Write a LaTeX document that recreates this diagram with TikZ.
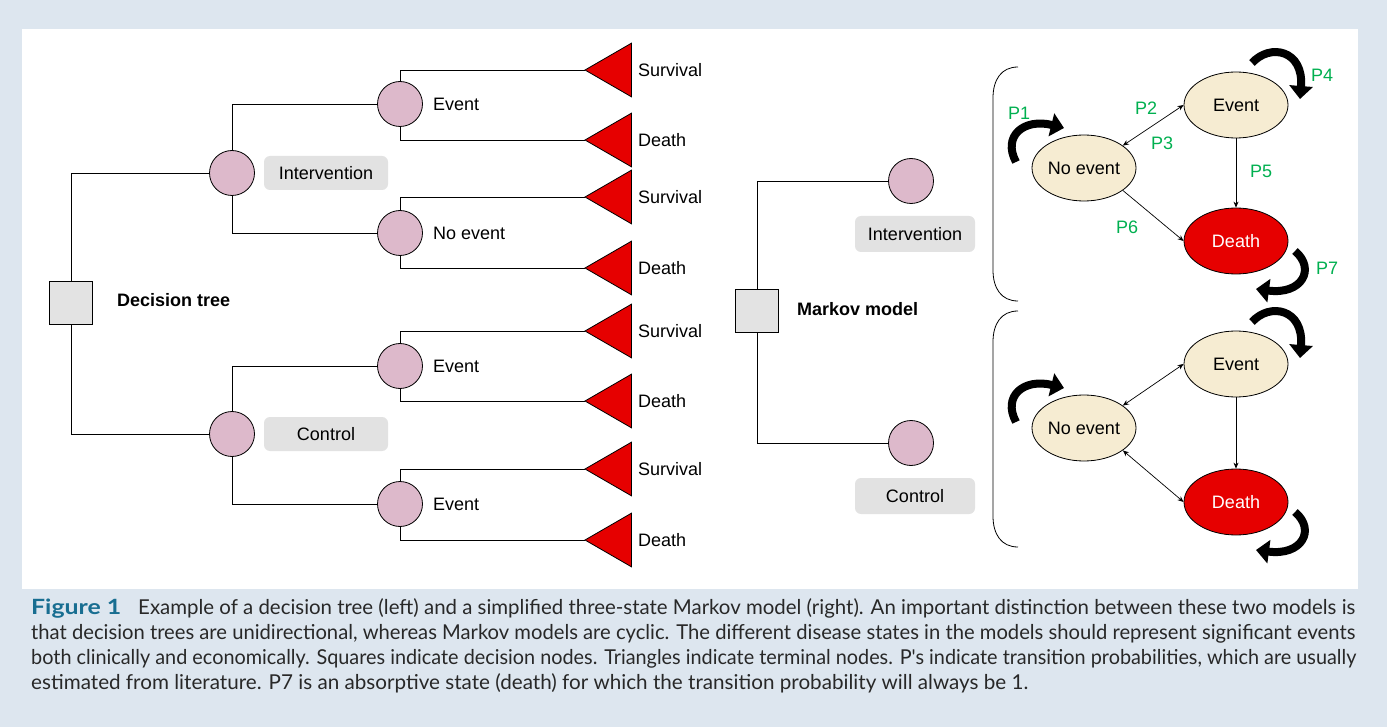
\documentclass[tikz,border=0pt]{standalone}
\usepackage{fontspec}
\usepackage{graphicx}
\setmainfont{Liberation Sans}
\newfontfamily\capfont{Lato}
\usetikzlibrary{shapes.geometric,arrows.meta}
\definecolor{bgblue}{RGB}{221,230,239}
\definecolor{sqgray}{RGB}{227,227,227}
\definecolor{boxgray}{RGB}{226,226,226}
\definecolor{pinkc}{RGB}{221,185,203}
\definecolor{tred}{RGB}{230,0,0}
\definecolor{beige}{RGB}{246,236,210}
\definecolor{pgreen}{RGB}{0,176,80}
\definecolor{figteal}{RGB}{24,110,145}
\definecolor{captext}{RGB}{40,40,40}
\newcommand\capl[2]{\resizebox{#1}{\height}{\capfont\fontsize{20.5}{24}\selectfont #2}}
\begin{document}
\begin{tikzpicture}[x=1pt,y=-1pt,
  dnode/.style={draw, fill=sqgray, minimum size=43pt, inner sep=0pt, line width=0.8pt},
  cnode/.style={circle, draw, fill=pinkc, minimum size=45pt, inner sep=0pt, line width=0.8pt},
  tnode/.style={regular polygon, regular polygon sides=3, shape border rotate=90, draw, fill=tred, minimum size=62pt, inner sep=0pt, outer sep=0pt, line width=0.8pt},
  lbl/.style={font=\fontsize{18}{20}\selectfont, anchor=west, inner sep=0pt},
  blbl/.style={font=\fontsize{18}{20}\selectfont\bfseries, anchor=west, inner sep=0pt},
  gbox/.style={fill=boxgray, rounded corners=6pt, minimum width=124pt, minimum height=34pt, inner sep=0pt, font=\fontsize{18}{20}\selectfont},
  state/.style={ellipse, draw, fill=beige, minimum width=104pt, minimum height=66pt, inner sep=0pt, line width=0.8pt, font=\fontsize{18}{20}\selectfont},
  plab/.style={text=pgreen, inner sep=0pt, font=\fontsize{18}{20}\selectfont},
  tline/.style={line width=0.8pt},
  selfloop/.style={line width=8pt, -{Triangle[length=13pt,width=23pt]}},
  arr/.style={line width=0.7pt, -{Stealth[length=6pt,width=5pt]}},
  darr/.style={line width=0.7pt, {Stealth[length=6pt,width=5pt]}-{Stealth[length=6pt,width=5pt]}},
  capline/.style={anchor=base west, inner sep=0pt, text=captext}
]
\fill[bgblue] (0,0) rectangle (1387,727);
\fill[white] (22,29) rectangle (1358,589);
\useasboundingbox (0,0) rectangle (1387,727);

% ---------------- Decision tree ----------------
\node[dnode] (dt) at (71,303) {};
\node[blbl] (dtl) at (117,300) {Decision tree};
\node[cnode] (ci) at (232,173) {};
\node[cnode] (cc) at (232,434) {};
\node[gbox] (gi) at (326,173) {Intervention};
\node[gbox] (gc) at (326,434) {Control};
\node[cnode] (e1) at (400,104) {};
\node[cnode] (n1) at (400,233) {};
\node[cnode] (e2) at (400,366) {};
\node[cnode] (e3) at (400,504) {};
\node[lbl] (le1) at (433,104) {Event};
\node[lbl] (ln1) at (433,233) {No event};
\node[lbl] (le2) at (433,366) {Event};
\node[lbl] (le3) at (433,504) {Event};

\foreach \n/\y/\t in {t1s/70/Survival, t1d/140/Death, t2s/197/Survival, t2d/268/Death,
                      t3s/331/Survival, t3d/401/Death, t4s/469/Survival, t4d/540/Death}{
  \node[tnode] (\n) at (616,\y) {};
  \node[lbl] (\n l) at (638,\y) {\t};
}

\draw[tline] (dt.north) |- (ci.west);
\draw[tline] (dt.south) |- (cc.west);
\draw[tline] (ci.north) |- (e1.west);
\draw[tline] (ci.south) |- (n1.west);
\draw[tline] (cc.north) |- (e2.west);
\draw[tline] (cc.south) |- (e3.west);
\draw[tline] (e1.north) |- (t1s.corner 1);
\draw[tline] (e1.south) |- (t1d.corner 1);
\draw[tline] (n1.north) |- (t2s.corner 1);
\draw[tline] (n1.south) |- (t2d.corner 1);
\draw[tline] (e2.north) |- (t3s.corner 1);
\draw[tline] (e2.south) |- (t3d.corner 1);
\draw[tline] (e3.north) |- (t4s.corner 1);
\draw[tline] (e3.south) |- (t4d.corner 1);

% ---------------- Markov model ----------------
\node[dnode] (mm) at (757,311) {};
\node[blbl] (mml) at (797,309) {Markov model};
\node[cnode] (mi) at (911,181) {};
\node[cnode] (mc) at (911,443) {};
\node[gbox, minimum width=120pt, minimum height=36pt] (mgi) at (915,234) {Intervention};
\node[gbox, minimum width=120pt, minimum height=36pt] (mgc) at (915,496) {Control};
\draw[tline] (mm.north) |- (mi.west);
\draw[tline] (mm.south) |- (mc.west);

% brackets
\draw[tline] (1018,67) .. controls (1001,67) and (993,80) .. (993,98) -- (993,270) .. controls (993,288) and (1001,301) .. (1018,301);
\draw[tline] (1018,311) .. controls (1001,311) and (993,324) .. (993,342) -- (993,516) .. controls (993,534) and (1001,547) .. (1018,547);

% group 1
\node[state] (ne1) at (1084,168) {No event};
\node[state] (ev1) at (1236,105) {Event};
\node[state, fill=tred, text=white] (de1) at (1236,241) {Death};
\draw[darr] (ne1.30) -- (ev1.west);
\draw[arr] (ev1.south) -- (de1.north);
\draw[arr] (ne1.-30) -- (de1.west);
\node[plab] (p1) at (1019,113) {P1};
\node[plab] (p2) at (1146,108) {P2};
\node[plab] (p3) at (1162,143) {P3};
\node[plab] (p4) at (1322,75) {P4};
\node[plab] (p5) at (1261,171) {P5};
\node[plab] (p6) at (1127,227) {P6};
\node[plab] (p7) at (1327,268) {P7};
\begin{scope}[shift={(ne1.center)}]
  \draw[selfloop] (-68,-6) .. controls (-82,-32) and (-60,-50) .. (-20,-40);
\end{scope}
\begin{scope}[shift={(ev1.center)}]
  \draw[selfloop] (16,-42) .. controls (34,-62) and (68,-55) .. (64,-6);
\end{scope}
\begin{scope}[shift={(de1.center)}]
  \draw[selfloop] (59,10) .. controls (80,28) and (66,54) .. (20,48);
\end{scope}

% group 2
\node[state] (ne2) at (1084,428) {No event};
\node[state] (ev2) at (1236,364) {Event};
\node[state, fill=tred, text=white] (de2) at (1236,502) {Death};
\draw[darr] (ne2.30) -- (ev2.west);
\draw[arr] (ev2.south) -- (de2.north);
\draw[darr] (ne2.-30) -- (de2.west);
\begin{scope}[shift={(ne2.center)}]
  \draw[selfloop] (-68,-6) .. controls (-82,-32) and (-60,-50) .. (-20,-40);
\end{scope}
\begin{scope}[shift={(ev2.center)}]
  \draw[selfloop] (16,-42) .. controls (34,-62) and (68,-55) .. (64,-6);
\end{scope}
\begin{scope}[shift={(de2.center)}]
  \draw[selfloop] (59,10) .. controls (80,28) and (66,54) .. (20,48);
\end{scope}

% ---------------- Caption ----------------
\node[capline, text=figteal] (fig) at (31,614) {\resizebox{90pt}{\height}{\capfont\fontsize{21}{24}\selectfont\bfseries Figure~1}};
\node[capline] (c1) at (138,614) {\capl{1217pt}{Example of a decision tree (left) and a simplified three-state Markov model (right). An important distinction between these two models is}};
\node[capline] (c2) at (31,639) {\capl{1324pt}{that decision trees are unidirectional, whereas Markov models are cyclic. The different disease states in the models should represent significant events}};
\node[capline] (c3) at (31,664) {\capl{1325pt}{both clinically and economically. Squares indicate decision nodes. Triangles indicate terminal nodes. P's indicate transition probabilities, which are usually}};
\node[capline] (c4) at (31,689) {\capl{997pt}{estimated from literature. P7 is an absorptive state (death) for which the transition probability will always be 1.}};
\end{tikzpicture}
\end{document}
